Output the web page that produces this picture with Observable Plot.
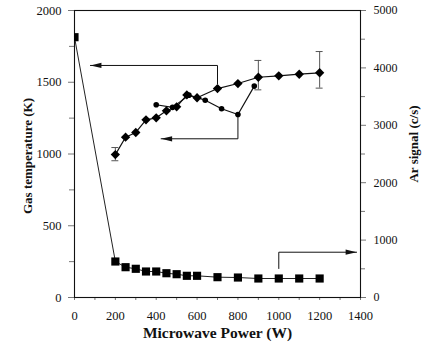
<!DOCTYPE html>
<html><head><meta charset="utf-8">
<script src="https://cdn.jsdelivr.net/npm/d3@7"></script>
<script src="https://cdn.jsdelivr.net/npm/@observablehq/plot@0.6"></script>
<style>body{margin:0;background:#fff}</style>
</head><body><div id="chart"></div>
<script>
// Ar signal (right axis, c/s) vs microwave power
const powerSq = [0,200,250,300,350,400,450,500,550,600,700,800,900,1000,1100,1200];
const arSignal = [4535,627,528,500,453,453,423,406,378,378,354,348,331,331,331,331];
// Gas temperature series A (diamonds, left axis, K)
const powerDia = [200,250,300,350,400,450,500,550,600,700,800,900,1000,1100,1200];
const gasTempA = [996,1117,1150,1238,1252,1301,1329,1412,1392,1456,1491,1535,1545,1556,1566];
// Gas temperature series B (circles, left axis, K)
const powerCirc = [400,480,560,640,720,800,880];
const gasTempB = [1343,1325,1410,1375,1315,1275,1473];
// error bars on series A
const errPower = [200,900,1200];
const errLow = [953,1447,1459];
const errHigh = [1045,1652,1714];
// annotation arrows (data units)
const arrowAX = [700,700,78], arrowAY = [1490,1617,1617];          // to left axis
const arrowBX = [800,800,424], arrowBY = [1275,1106,1106];          // to left axis
const arrowCX = [1000,1000,1381], arrowCAr = [505,789,789];         // to right axis (Ar units)
// tick labels
const xTicks = [0,200,400,600,800,1000,1200,1400];
const xMinor = [100,300,500,700,900,1100,1300];
const yTicks = [0,500,1000,1500,2000];
const yMinor = [250,750,1250,1750];
const arTicks = [0,1000,2000,3000,4000,5000];
const arMinor = [500,1500,2500,3500,4500];

const k = 2000/5000; // Ar -> left-axis units
const sq = powerSq.map((p,i)=>({p, y: arSignal[i]*k}));
const dia = powerDia.map((p,i)=>({p, y: gasTempA[i]}));
const circ = powerCirc.map((p,i)=>({p, y: gasTempB[i]}));
const err = errPower.map((p,i)=>({p, lo: errLow[i], hi: errHigh[i]}));
const arrA = arrowAX.map((x,i)=>({x, y: arrowAY[i]}));
const arrB = arrowBX.map((x,i)=>({x, y: arrowBY[i]}));
const arrC = arrowCX.map((x,i)=>({x, y: arrowCAr[i]*k}));

const headLeft = {draw(c){c.moveTo(0,0);c.lineTo(11,-2.6);c.lineTo(11,2.6);c.closePath();}};
const headRight = {draw(c){c.moveTo(0,0);c.lineTo(-11,-2.6);c.lineTo(-11,2.6);c.closePath();}};

const font = "Liberation Serif";
const tickColor = "#777";
const fmt = d => String(d);

const chart = Plot.plot({
  width: 423, height: 350,
  marginLeft: 74, marginRight: 63, marginTop: 10, marginBottom: 53,
  style: {fontFamily: font, fontSize: "12px", color: "#111", background: "#fff"},
  x: {domain: [0,1400], axis: null},
  y: {domain: [0,2000], axis: null},
  marks: [
    Plot.axisX(xTicks, {tickSize: 3, tickPadding: 11, tickFormat: fmt, stroke: tickColor, fontSize: 12.5, fontFamily: font, fontVariant: "normal", fill: "#111"}),
    Plot.axisX(xMinor, {tickSize: 3, tickFormat: () => "", stroke: tickColor}),
    Plot.axisY(yTicks, {anchor: "left", tickSize: 6, tickPadding: 7, tickFormat: fmt, stroke: tickColor, fontSize: 12.5, fontFamily: font, fontVariant: "normal", fill: "#111"}),
    Plot.axisY(yMinor, {anchor: "left", tickSize: 5, tickFormat: () => "", stroke: tickColor}),
    Plot.axisY(arTicks.map(v=>v*k), {anchor: "right", tickSize: 5, tickPadding: 8, tickFormat: d => String(Math.round(d/k)), stroke: tickColor, fontSize: 12, fontFamily: font, fontVariant: "normal", fill: "#111"}),
    Plot.axisY(arMinor.map(v=>v*k), {anchor: "right", tickSize: 4, tickFormat: () => "", stroke: tickColor}),
    Plot.frame({stroke: "#111", strokeWidth: 1.1}),
    // error bars
    Plot.ruleX(err, {x: "p", y1: "lo", y2: "hi", stroke: "#555", strokeWidth: 1}),
    Plot.ruleY(err, {y: "lo", x1: d => d.p-17, x2: d => d.p+17, stroke: "#555", strokeWidth: 1}),
    Plot.ruleY(err, {y: "hi", x1: d => d.p-17, x2: d => d.p+17, stroke: "#555", strokeWidth: 1}),
    // series lines
    Plot.line(sq, {x: "p", y: "y", stroke: "#222", strokeWidth: 1}),
    Plot.line(dia, {x: "p", y: "y", stroke: "#111", strokeWidth: 1.2}),
    Plot.line(circ, {x: "p", y: "y", stroke: "#111", strokeWidth: 1.2}),
    // arrows
    Plot.line(arrA, {x: "x", y: "y", stroke: "#111", strokeWidth: 1}),
    Plot.line(arrB, {x: "x", y: "y", stroke: "#111", strokeWidth: 1}),
    Plot.line(arrC, {x: "x", y: "y", stroke: "#111", strokeWidth: 1}),
    Plot.dot([arrA[2], arrB[2]], {x: "x", y: "y", symbol: headLeft, fill: "#111", stroke: "none"}),
    Plot.dot([arrC[2]], {x: "x", y: "y", symbol: headRight, fill: "#111", stroke: "none"}),
    // markers
    Plot.dot(sq, {x: "p", y: "y", symbol: "square", r: 4.6, fill: "#000", stroke: "none", clip: true}),
    Plot.dot(dia, {x: "p", y: "y", symbol: "diamond2", r: 4.2, fill: "#000", stroke: "none"}),
    Plot.dot(circ, {x: "p", y: "y", symbol: "circle", r: 2.8, fill: "#000", stroke: "none"}),
    // axis titles
    Plot.text(["Gas temperature (K)"], {frameAnchor: "left", textAnchor: "middle", dx: -47, dy: 2, rotate: -90, fontSize: 13, fontWeight: "bold", fontFamily: font, fill: "#111"}),
    Plot.text(["Ar signal (c/s)"], {frameAnchor: "right", textAnchor: "middle", dx: 53, dy: -10, rotate: -90, fontSize: 13, fontWeight: "bold", fontFamily: font, fill: "#111"}),
    Plot.text(["Microwave Power (W)"], {frameAnchor: "bottom", textAnchor: "middle", dy: 40, fontSize: 15.5, fontWeight: "bold", fontFamily: font, fill: "#111"})
  ]
});
document.getElementById("chart").appendChild(chart);
</script>
</body></html>
